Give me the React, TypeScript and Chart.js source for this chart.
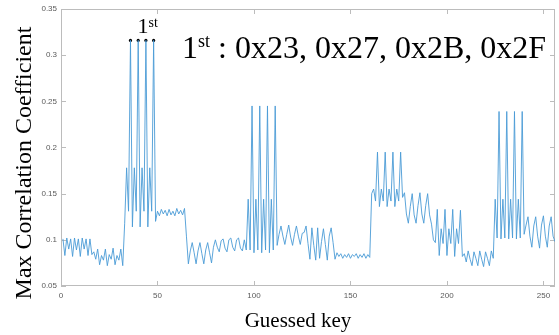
import { useEffect, useRef } from 'react';
import { Chart, registerables } from 'chart.js';

Chart.register(...registerables);

// Guessed key (x = 1..256, MATLAB index) -> max correlation coefficient
const block0 = [
  0.101, 0.083, 0.102, 0.090, 0.101, 0.082, 0.102, 0.089,
  0.101, 0.082, 0.102, 0.090, 0.101, 0.083, 0.101, 0.084,
  0.087, 0.079, 0.090, 0.073, 0.083, 0.078, 0.090, 0.072,
  0.084, 0.079, 0.091, 0.073, 0.083, 0.078, 0.090, 0.072,
];
const block1 = [
  0.118, 0.178, 0.131, 0.316, 0.114, 0.178, 0.131, 0.316,
  0.114, 0.178, 0.131, 0.316, 0.114, 0.178, 0.131, 0.316,
  0.120, 0.131, 0.126, 0.133, 0.128, 0.132, 0.126, 0.133,
  0.127, 0.131, 0.126, 0.134, 0.128, 0.132, 0.127, 0.134,
];
const block2 = [
  0.104, 0.074, 0.088, 0.097, 0.086, 0.074, 0.088, 0.097,
  0.085, 0.074, 0.089, 0.097, 0.086, 0.075, 0.092, 0.100,
  0.092, 0.087, 0.099, 0.101, 0.091, 0.087, 0.100, 0.102,
  0.092, 0.088, 0.100, 0.102, 0.091, 0.088, 0.100, 0.089,
];
const block3 = [
  0.144, 0.089, 0.245, 0.086, 0.144, 0.089, 0.245, 0.086,
  0.144, 0.089, 0.245, 0.086, 0.144, 0.089, 0.245, 0.094,
  0.106, 0.115, 0.104, 0.095, 0.106, 0.116, 0.103, 0.094,
  0.106, 0.115, 0.104, 0.095, 0.107, 0.108, 0.115, 0.096,
];
const block4 = [
  0.079, 0.113, 0.094, 0.078, 0.113, 0.080, 0.098, 0.112,
  0.095, 0.078, 0.104, 0.113, 0.097, 0.079, 0.086, 0.082,
  0.085, 0.080, 0.084, 0.081, 0.085, 0.080, 0.084, 0.082,
  0.085, 0.080, 0.084, 0.081, 0.085, 0.080, 0.084, 0.081,
];
const block5 = [
  0.150, 0.155, 0.142, 0.195, 0.136, 0.155, 0.142, 0.195,
  0.136, 0.155, 0.142, 0.195, 0.136, 0.155, 0.142, 0.195,
  0.146, 0.151, 0.128, 0.118, 0.136, 0.150, 0.127, 0.118,
  0.137, 0.151, 0.128, 0.118, 0.137, 0.150, 0.127, 0.117,
];
const block6 = [
  0.100, 0.097, 0.133, 0.083, 0.112, 0.096, 0.133, 0.083,
  0.112, 0.096, 0.133, 0.082, 0.112, 0.096, 0.132, 0.082,
  0.085, 0.076, 0.088, 0.079, 0.072, 0.087, 0.080, 0.072,
  0.088, 0.079, 0.071, 0.087, 0.080, 0.072, 0.088, 0.080,
];
const block7 = [
  0.144, 0.102, 0.239, 0.101, 0.144, 0.102, 0.239, 0.101,
  0.144, 0.102, 0.239, 0.101, 0.144, 0.102, 0.239, 0.106,
  0.116, 0.125, 0.104, 0.092, 0.115, 0.125, 0.104, 0.091,
  0.116, 0.126, 0.104, 0.092, 0.115, 0.125, 0.104, 0.098,
];

const values = [
  ...block0, ...block1, ...block2, ...block3,
  ...block4, ...block5, ...block6, ...block7,
];
const keys = values.map((_, i) => i + 1);

const markerKeys = [36, 40, 44, 48];
const markerValues = [0.316, 0.316, 0.316, 0.316];

const xTicks = [0, 50, 100, 150, 200, 250];
const yTicks = [0.05, 0.1, 0.15, 0.2, 0.25, 0.3, 0.35];

const xTitle = 'Guessed key';
const yTitle = 'Max Correlation Coefficient';
const noteOrdinal = '1';
const noteSup = 'st';
const noteText = ' : 0x23, 0x27, 0x2B, 0x2F';

const LINE = '#4a9bd6';
const FRAME = '#bcbcbc';
const TICKTXT = '#5a5a5a';
const SERIF = '"Liberation Serif", "DejaVu Serif", serif';
const SANS = '"Liberation Sans", Arial, sans-serif';

const decorPlugin = {
  id: 'decor',
  beforeDatasetsDraw(chart: any) {
    const { ctx, chartArea: a, scales } = chart;
    ctx.save();
    ctx.strokeStyle = FRAME;
    ctx.lineWidth = 1;
    ctx.strokeRect(Math.round(a.left) + 0.5, Math.round(a.top) + 0.5,
      Math.round(a.right - a.left) - 1, Math.round(a.bottom - a.top) - 1);
    ctx.beginPath();
    for (const v of xTicks) {
      const px = Math.round(scales.x.getPixelForValue(v)) + 0.5;
      ctx.moveTo(px, a.bottom); ctx.lineTo(px, a.bottom - 5);
      ctx.moveTo(px, a.top); ctx.lineTo(px, a.top + 5);
    }
    for (const v of yTicks) {
      const py = Math.round(scales.y.getPixelForValue(v)) + 0.5;
      ctx.moveTo(a.left, py); ctx.lineTo(a.left + 5, py);
      ctx.moveTo(a.right, py); ctx.lineTo(a.right - 5, py);
    }
    ctx.stroke();
    ctx.restore();
  },
  afterDraw(chart: any) {
    const { ctx } = chart;
    ctx.save();
    ctx.fillStyle = '#000';
    // axis titles
    ctx.font = `21px ${SERIF}`;
    ctx.textAlign = 'center';
    ctx.textBaseline = 'alphabetic';
    ctx.fillText(xTitle, 298, 327);
    ctx.save();
    ctx.translate(31, 163);
    ctx.rotate(-Math.PI / 2);
    ctx.font = `24px ${SERIF}`;
    ctx.fillText(yTitle, 0, 0);
    ctx.restore();
    // big note
    ctx.textAlign = 'left';
    ctx.font = `32px ${SERIF}`;
    let x = 182;
    ctx.fillText(noteOrdinal, x, 58);
    x += ctx.measureText(noteOrdinal).width;
    ctx.font = `18px ${SERIF}`;
    ctx.fillText(noteSup, x, 47);
    x += ctx.measureText(noteSup).width;
    ctx.font = `32px ${SERIF}`;
    ctx.fillText(noteText, x, 58);
    // small label above peaks
    ctx.font = `22px ${SERIF}`;
    x = 137.5;
    ctx.fillText(noteOrdinal, x, 33);
    x += ctx.measureText(noteOrdinal).width;
    ctx.font = `14px ${SERIF}`;
    ctx.fillText(noteSup, x, 27);
    ctx.restore();
  },
};

export default function App() {
  const ref = useRef<HTMLCanvasElement>(null);
  useEffect(() => {
    document.body.style.margin = '0';
    const chart = new Chart(ref.current as HTMLCanvasElement, {
      type: 'line',
      data: {
        datasets: [
          {
            data: keys.map((k, i) => ({ x: k, y: values[i] })),
            borderColor: LINE,
            borderWidth: 0.9,
            pointRadius: 0,
            tension: 0,
            fill: false,
          },
          {
            type: 'scatter',
            data: markerKeys.map((k, i) => ({ x: k, y: markerValues[i] })),
            pointRadius: 1.6,
            pointBackgroundColor: '#000',
            pointBorderWidth: 0,
            showLine: false,
          } as any,
        ],
      },
      options: {
        animation: false,
        responsive: false,
        events: [],
        plugins: { legend: { display: false }, tooltip: { enabled: false } },
        layout: { padding: { top: 9, right: 1, left: 0, bottom: 0 } },
        scales: {
          x: {
            type: 'linear',
            min: 0,
            max: 256,
            grid: { display: false, drawTicks: false },
            border: { display: false },
            ticks: {
              padding: 5,
              color: TICKTXT,
              font: { family: SANS, size: 8 },
              maxRotation: 0,
              callback: (v: any) => String(v),
            },
            afterBuildTicks: (s: any) => { s.ticks = xTicks.map((v) => ({ value: v })); },
            afterFit: (s: any) => { s.height = 49; },
          },
          y: {
            type: 'linear',
            min: 0.05,
            max: 0.35,
            grid: { display: false, drawTicks: false },
            border: { display: false },
            ticks: {
              padding: 4,
              color: TICKTXT,
              font: { family: SANS, size: 8 },
              callback: (v: any) => String(Math.round(v * 100) / 100),
            },
            afterBuildTicks: (s: any) => { s.ticks = yTicks.map((v) => ({ value: v })); },
            afterFit: (s: any) => { s.width = 61; },
          },
        },
      },
      plugins: [decorPlugin],
    });
    return () => chart.destroy();
  }, []);
  return <canvas ref={ref} width={559} height={335} style={{ display: 'block' }} />;
}
